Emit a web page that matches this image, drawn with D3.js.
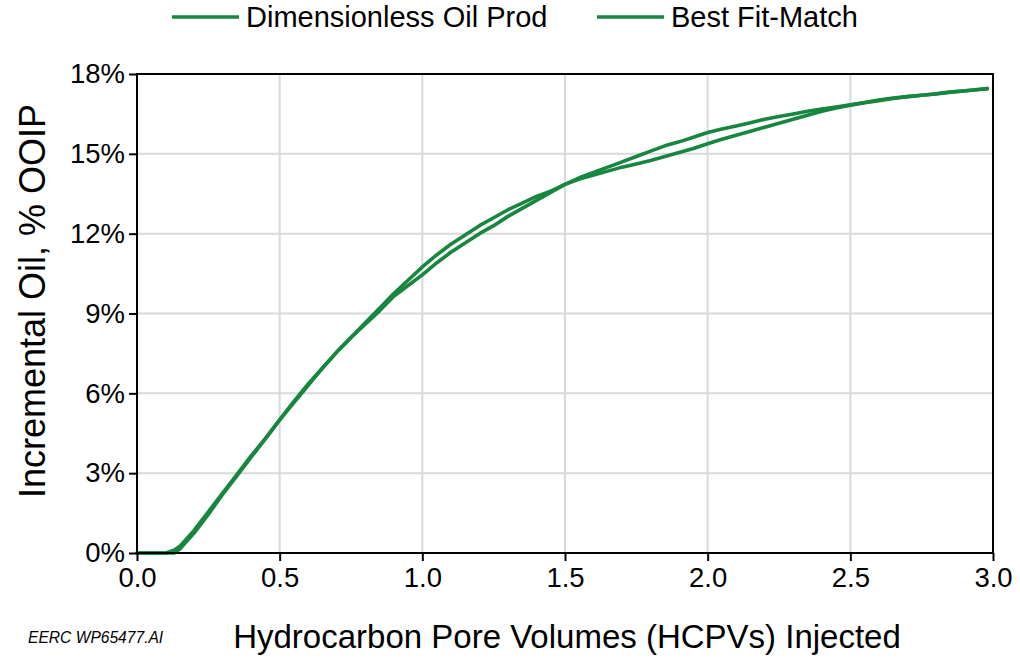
<!DOCTYPE html>
<html><head><meta charset="utf-8">
<script src="https://cdn.jsdelivr.net/npm/d3@7"></script>
<style>
html,body{margin:0;padding:0;background:#fff;}
svg{display:block;font-family:"Liberation Sans",Arial,sans-serif;}
</style></head>
<body>
<svg id="chart" width="1020" height="659"></svg>
<script>
// ---- data ----
const seriesNames = ["Dimensionless Oil Prod", "Best Fit-Match"];
const xTicks = [0, 0.5, 1.0, 1.5, 2.0, 2.5, 3.0];
const yTicks = [0, 3, 6, 9, 12, 15, 18];

const oilProdX = [0,0.05,0.10,0.13,0.15,0.20,0.25,0.30,0.35,0.40,0.45,0.50,0.55,0.60,0.65,0.70,0.75,0.80,0.85,0.90,0.95,1.00,1.05,1.10,1.15,1.20,1.25,1.30,1.35,1.40,1.45,1.50,1.55,1.60,1.65,1.70,1.75,1.80,1.85,1.90,1.95,2.00,2.05,2.10,2.15,2.20,2.25,2.30,2.35,2.40,2.45,2.50,2.55,2.60,2.65,2.70,2.75,2.80,2.85,2.90,2.95,2.98];
const oilProdY = [0,0,0,0.10,0.25,0.85,1.55,2.25,2.95,3.65,4.30,5.00,5.70,6.35,6.95,7.55,8.10,8.65,9.20,9.75,10.25,10.75,11.20,11.60,11.95,12.30,12.60,12.90,13.15,13.40,13.60,13.85,14.05,14.20,14.35,14.50,14.62,14.75,14.90,15.05,15.20,15.38,15.55,15.70,15.85,16.00,16.15,16.30,16.45,16.60,16.72,16.83,16.92,17.00,17.08,17.15,17.20,17.25,17.32,17.36,17.42,17.45];

const fitX = [0,0.05,0.10,0.13,0.15,0.20,0.25,0.30,0.35,0.40,0.45,0.50,0.55,0.60,0.65,0.70,0.75,0.80,0.85,0.90,0.95,1.00,1.05,1.10,1.15,1.20,1.25,1.30,1.35,1.40,1.45,1.50,1.55,1.60,1.65,1.70,1.75,1.80,1.85,1.90,1.95,2.00,2.05,2.10,2.15,2.20,2.25,2.30,2.35,2.40,2.45,2.50,2.55,2.60,2.65,2.70,2.75,2.80,2.85,2.90,2.95,2.98];
const fitY = [0,0,0,0,0.15,0.75,1.45,2.20,2.90,3.60,4.30,5.00,5.65,6.30,6.95,7.55,8.10,8.60,9.10,9.65,10.05,10.45,10.90,11.30,11.65,12.00,12.30,12.65,12.95,13.25,13.55,13.85,14.10,14.30,14.50,14.70,14.90,15.10,15.30,15.45,15.62,15.80,15.93,16.05,16.17,16.30,16.40,16.50,16.60,16.68,16.76,16.84,16.93,17.02,17.10,17.15,17.20,17.26,17.32,17.37,17.42,17.45];

// ---- layout ----
const svg = d3.select("#chart");
const mLeft = 137, mRight = 993, mTop = 74, mBottom = 553;
const green = "#17873f";
const font = '"Liberation Sans",Arial,sans-serif';

const x = d3.scaleLinear().domain([0, 3]).range([mLeft, mRight]);
const y = d3.scaleLinear().domain([0, 18]).range([mBottom, mTop]);

// grid
svg.append("g").selectAll("line").data(xTicks.slice(1, -1)).join("line")
  .attr("x1", d => x(d)).attr("x2", d => x(d)).attr("y1", mTop).attr("y2", mBottom)
  .attr("stroke", "#d9d9d9").attr("stroke-width", 2);
svg.append("g").selectAll("line").data(yTicks.slice(1, -1)).join("line")
  .attr("x1", mLeft).attr("x2", mRight).attr("y1", d => y(d)).attr("y2", d => y(d))
  .attr("stroke", "#d9d9d9").attr("stroke-width", 2);

// lines
const line = d3.line().x(d => x(d[0])).y(d => y(d[1]));
const sets = [d3.zip(oilProdX, oilProdY), d3.zip(fitX, fitY)];
sets.forEach(s => {
  svg.append("path").datum(s).attr("d", line)
    .attr("fill", "none").attr("stroke", green).attr("stroke-width", 3.6)
    .attr("stroke-linejoin", "round").attr("stroke-linecap", "round");
});

// frame
svg.append("rect").attr("x", mLeft).attr("y", mTop)
  .attr("width", mRight - mLeft).attr("height", mBottom - mTop)
  .attr("fill", "none").attr("stroke", "#000").attr("stroke-width", 2);

// axes
const xAxis = d3.axisBottom(x).tickValues(xTicks).tickFormat(d3.format(".1f"))
  .tickSizeInner(8).tickSizeOuter(0).tickPadding(6);
const gx = svg.append("g").attr("transform", `translate(0,${mBottom})`).call(xAxis);
const yAxis = d3.axisLeft(y).tickValues(yTicks).tickFormat(d => d + "%")
  .tickSizeInner(8).tickSizeOuter(0).tickPadding(4);
const gy = svg.append("g").attr("transform", `translate(${mLeft},0)`).call(yAxis);
[gx, gy].forEach(g => {
  g.select(".domain").remove();
  g.selectAll(".tick line").attr("stroke", "#000").attr("stroke-width", 2);
  g.selectAll(".tick text").attr("fill", "#000").style("font-size", "27.5px")
    .style("font-family", font);
});

// axis titles
svg.append("text").attr("x", (mLeft + mRight) / 2 + 2).attr("y", 648)
  .attr("text-anchor", "middle").style("font-size", "33px").attr("fill", "#000")
  .text("Hydrocarbon Pore Volumes (HCPVs) Injected");
svg.append("text").attr("transform", `translate(45,301) rotate(-90)`)
  .attr("text-anchor", "middle").style("font-size", "36px").attr("fill", "#000")
  .text("Incremental Oil, % OOIP");

// watermark
svg.append("text").attr("x", 28).attr("y", 643).style("font-size", "15.6px")
  .style("font-style", "italic").attr("fill", "#000").text("EERC WP65477.AI");

// legend
const legendPos = [172, 597];
seriesNames.forEach((name, i) => {
  const lx = legendPos[i];
  svg.append("line").attr("x1", lx).attr("x2", lx + 67).attr("y1", 17).attr("y2", 17)
    .attr("stroke", green).attr("stroke-width", 3.6);
  svg.append("text").attr("x", lx + 74).attr("y", 27).style("font-size", "29px")
    .attr("fill", "#000").text(name);
});
</script>
</body></html>
